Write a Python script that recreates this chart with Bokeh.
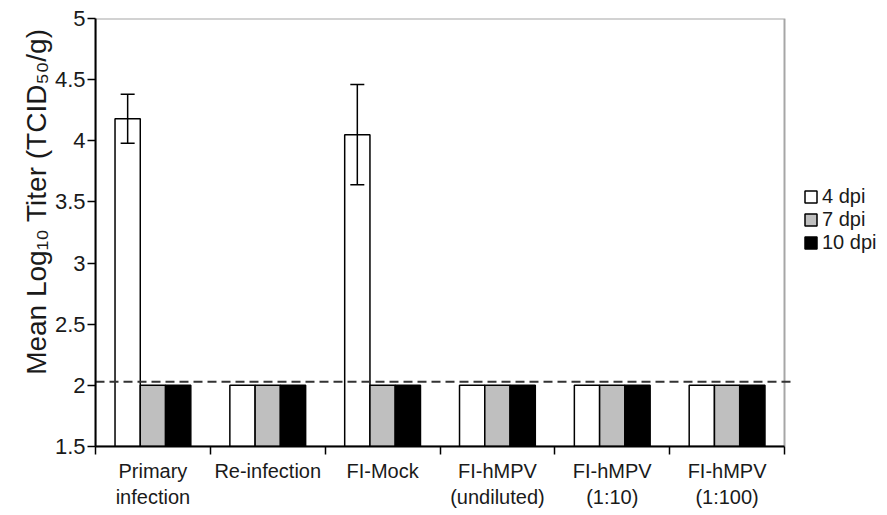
from bokeh.plotting import figure
from bokeh.models import (ColumnDataSource, Range1d, FixedTicker, Whisker,
                          Legend, LegendItem, TeeHead, BoxAnnotation, Title)
from bokeh.transform import dodge
from bokeh.embed import file_html
from bokeh.resources import INLINE

categories = ["Primary\ninfection", "Re-infection", "FI-Mock",
              "FI-hMPV\n(undiluted)", "FI-hMPV\n(1:10)", "FI-hMPV\n(1:100)"]
series = ["4 dpi", "7 dpi", "10 dpi"]
dpi4 = [4.18, 2.0, 4.05, 2.0, 2.0, 2.0]
dpi7 = [2.0, 2.0, 2.0, 2.0, 2.0, 2.0]
dpi10 = [2.0, 2.0, 2.0, 2.0, 2.0, 2.0]
err_index = [0, 2]
err_upper = [4.38, 4.46]
err_lower = [3.98, 3.64]
detection_limit = 2.03
y_ticks = [1.5, 2, 2.5, 3, 3.5, 4, 4.5, 5]
y_min, y_max = 1.5, 5.0
y_label = "Mean Log\u2081\u2080 Titer (TCID\u2085\u2080/g)"

FONT = "Liberation Sans"
TXT = "#1a1a1a"
n = len(categories)
centers = [i + 0.5 for i in range(n)]
bounds = list(range(n + 1))

# frame spans to the right edge; the plotted area [0, n] occupies 689 of 792 px
frame_w, area_w = 792, 689
x_end = n * frame_w / area_w

src = ColumnDataSource(dict(x=centers, d4=dpi4, d7=dpi7, d10=dpi10))

p = figure(width=887, height=515, output_backend="svg", toolbar_location=None,
           x_range=Range1d(0, x_end), y_range=Range1d(y_min, y_max),
           min_border_left=95, min_border_top=18, min_border_right=0,
           min_border_bottom=69)
p.xgrid.visible = False
p.ygrid.visible = False
p.outline_line_color = None

# grey plot-area border (top/right), left/bottom covered by the black axes
p.add_layout(BoxAnnotation(left=0, right=n, bottom=y_min, top=y_max,
                           fill_alpha=0, line_color="#a6a6a6", line_alpha=1,
                           line_width=2, level="underlay"))

bw = 0.22
colors = ["white", "#bfbfbf", "black"]
renderers = []
for off, col, fc in zip([-bw, 0, bw], ["d4", "d7", "d10"], colors):
    r = p.vbar(x=dodge("x", off), top=col, bottom=y_min, width=bw, source=src,
               fill_color=fc, line_color="black", line_width=1.5)
    renderers.append(r)

esrc = ColumnDataSource(dict(x=[centers[i] - bw for i in err_index],
                             upper=err_upper, lower=err_lower))
w = Whisker(base="x", upper="upper", lower="lower", source=esrc,
            line_color="black", line_width=1.5, level="overlay",
            upper_head=TeeHead(size=14, line_color="black", line_width=1.5),
            lower_head=TeeHead(size=14, line_color="black", line_width=1.5))
p.add_layout(w)

# detection limit (dashed), slightly overrunning the plot area as in the original
p.segment(x0=[0], x1=[n + 0.06], y0=[detection_limit], y1=[detection_limit],
          line_color="#333333", line_width=2, line_dash="9 5")

# axes
p.xaxis.bounds = (0, n)
p.xaxis.ticker = FixedTicker(ticks=centers, minor_ticks=bounds)
p.xaxis.major_label_overrides = {c: lab for c, lab in zip(centers, categories)}
p.xaxis.major_tick_line_color = None
p.xaxis.minor_tick_line_color = "black"
p.xaxis.minor_tick_in = 0
p.xaxis.minor_tick_out = 8
p.xaxis.axis_line_color = "black"
p.xaxis.axis_line_width = 2
p.xaxis.minor_tick_line_width = 1.5
p.xaxis.major_label_text_font = FONT
p.xaxis.major_label_text_font_size = "20px"
p.xaxis.major_label_text_color = TXT
p.xaxis.major_label_standoff = 5

p.yaxis.ticker = FixedTicker(ticks=y_ticks, minor_ticks=[])
p.yaxis.major_tick_in = 0
p.yaxis.major_tick_out = 8
p.yaxis.major_tick_line_width = 1.5
p.yaxis.axis_line_width = 2
p.yaxis.major_label_text_font = FONT
p.yaxis.major_label_text_font_size = "22px"
p.yaxis.major_label_text_color = TXT
p.yaxis.major_label_standoff = 2

# y-axis title: placed in the left panel, anchored near the top like the original
p.add_layout(Title(text=y_label, align="right", offset=10, standoff=0,
                   text_font=FONT, text_font_size="28px", text_font_style="normal",
                   text_color=TXT), "left")

legend = Legend(items=[LegendItem(label=s, renderers=[r]) for s, r in zip(series, renderers)],
                location=(708, 192), padding=0, margin=0, spacing=0,
                label_height=23, glyph_height=15, glyph_width=15,
                label_text_font=FONT, label_text_font_size="20px",
                label_text_color=TXT,
                label_standoff=4, border_line_color=None,
                background_fill_alpha=0)
p.add_layout(legend)

open("out.html", "w").write(file_html(p, INLINE))
